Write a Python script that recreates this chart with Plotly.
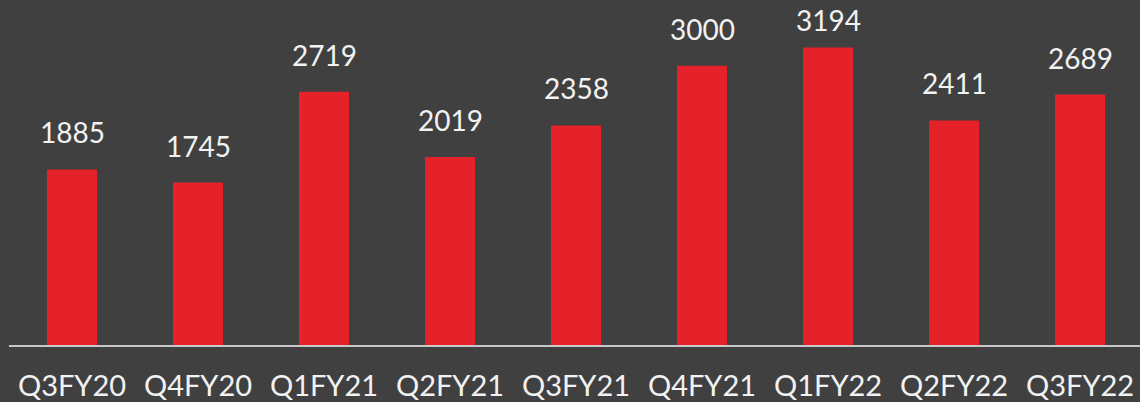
import plotly.graph_objects as go

categories = ["Q3FY20", "Q4FY20", "Q1FY21", "Q2FY21", "Q3FY21", "Q4FY21", "Q1FY22", "Q2FY22", "Q3FY22"]
values = [1885, 1745, 2719, 2019, 2358, 3000, 3194, 2411, 2689]

BG = "#404040"
RED = "#E52129"
TXT = "#F2F2F2"
FONT = "Lato, 'Open Sans', sans-serif"

H = 402
B = 54
YMAX = 3705
PLOT_H = H - B

fig = go.Figure(go.Bar(
    x=list(range(len(categories))), y=values,
    marker=dict(color=RED, line=dict(width=0)),
    width=0.397, hoverinfo="skip",
))

BOX_H = 34
for i, v in enumerate(values):
    bartop = PLOT_H - v * PLOT_H / YMAX
    shift = 18
    if bartop - shift - BOX_H < 5:
        shift = bartop - 5 - BOX_H
    fig.add_annotation(x=i, y=v, text=str(v), showarrow=False,
                       yanchor="bottom", yshift=shift,
                       font=dict(family=FONT, size=28, color=TXT))

fig.update_layout(
    width=1140, height=H,
    margin=dict(l=9, r=0, t=0, b=B),
    paper_bgcolor=BG, plot_bgcolor=BG,
    showlegend=False,
    xaxis=dict(tickmode="array", tickvals=list(range(len(categories))), ticktext=categories,
               range=[-0.5, 8.476], showgrid=False, zeroline=False,
               showline=True, linecolor="#C8C8C8", linewidth=2,
               ticks="outside", ticklen=14, tickcolor=BG,
               tickfont=dict(family=FONT, size=29, color=TXT)),
    yaxis=dict(range=[0, YMAX], visible=False, showgrid=False, zeroline=False),
)

fig.write_html("out.html", config={"displayModeBar": False},
               post_script="document.body.style.margin='0';document.body.style.background='#404040';")
